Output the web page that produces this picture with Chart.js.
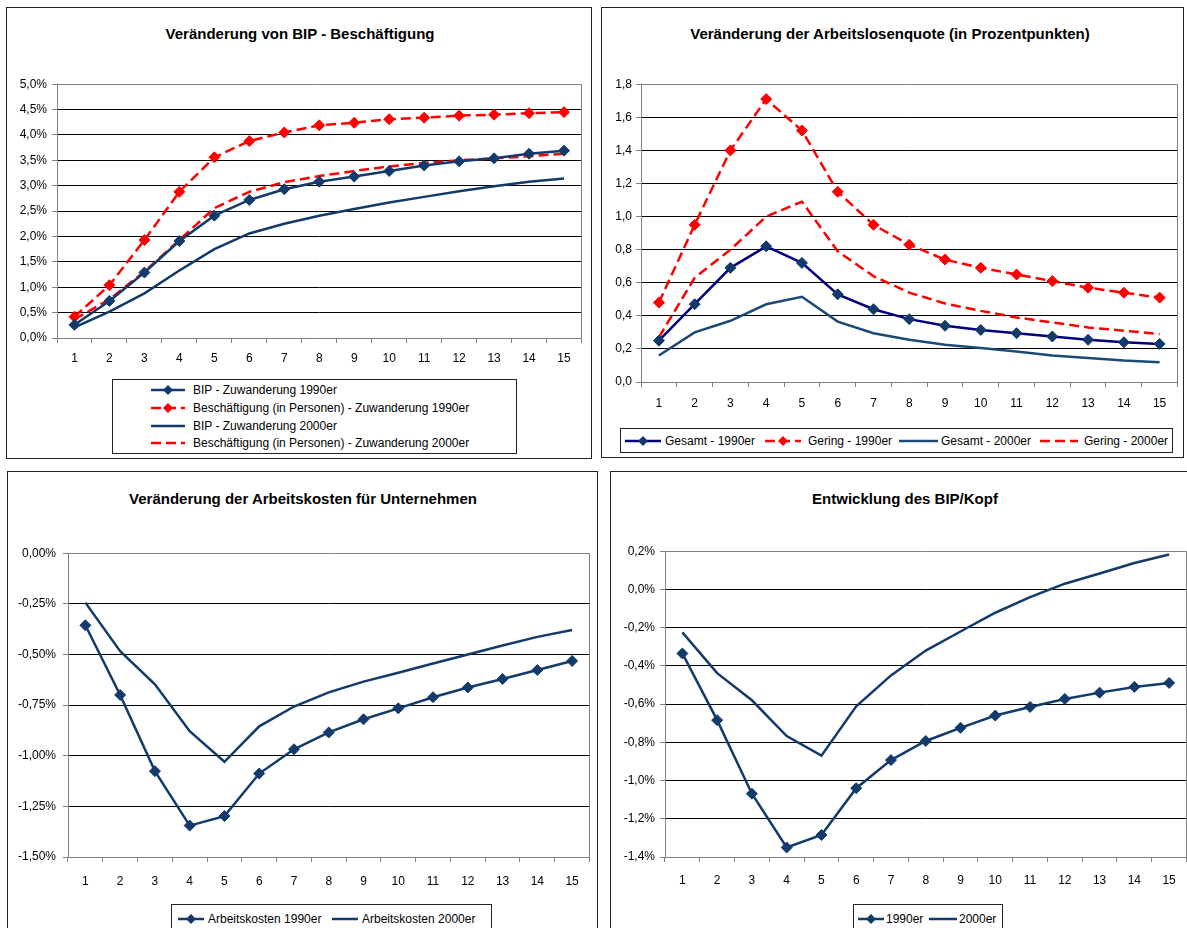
<!DOCTYPE html>
<html lang="de">
<head>
<meta charset="UTF-8">
<title>Zuwanderung - Veränderungen</title>
<script src="https://cdn.jsdelivr.net/npm/chart.js@4"></script>
<style>
  body { margin: 0; width: 1187px; height: 928px; overflow: hidden; background: #fff; position: relative;
         font-family: "Liberation Sans", Arial, sans-serif; color: #000; }
  .panel { position: absolute; border: 1.5px solid #222; box-sizing: border-box; }
  .titel { position: absolute; font-weight: bold; font-size: 15px; white-space: nowrap; transform: translate(-50%, -50%); }
  .box { position: absolute; }
  .legende { position: absolute; border: 1px solid #222; background: #fff; box-sizing: border-box; font-size: 12px; }
  .zeile { position: absolute; display: flex; align-items: center; white-space: nowrap; }
  .zeile svg { display: block; }
</style>
</head>
<body>

<div class="panel" style="left:6px; top:7px; width:586px; height:452px;"></div>
<div class="panel" style="left:601px; top:7px; width:583px; height:451px;"></div>
<div class="panel" style="left:7px; top:471px; width:591px; height:470px;"></div>
<div class="panel" style="left:610px; top:471px; width:590px; height:470px;"></div>

<div class="titel" style="left:300px; top:33px;">Veränderung von BIP - Beschäftigung</div>
<div class="titel" style="left:890px; top:33px;">Veränderung der Arbeitslosenquote (in Prozentpunkten)</div>
<div class="titel" style="left:303px; top:498px;">Veränderung der Arbeitskosten für Unternehmen</div>
<div class="titel" style="left:905px; top:498px;">Entwicklung des BIP/Kopf</div>

<div class="box" style="left:7px; top:72px; width:581px; height:296px;"><canvas id="chartBip"></canvas></div>
<div class="box" style="left:601px; top:73px; width:583px; height:339px;"><canvas id="chartQuote"></canvas></div>
<div class="box" style="left:6px; top:539px; width:590px; height:348px;"><canvas id="chartKosten"></canvas></div>
<div class="box" style="left:615px; top:539px; width:578px; height:348px;"><canvas id="chartKopf"></canvas></div>

<div class="legende" id="leg1" style="left:112px; top:379px; width:405px; height:75px;"></div>
<div class="legende" id="leg2" style="left:620px; top:428px; width:553px; height:25px;"></div>
<div class="legende" id="leg3" style="left:171px; top:904px; width:321px; height:30px;"></div>
<div class="legende" id="leg4" style="left:853px; top:904px; width:150px; height:30px;"></div>

<script>
  // Jahre nach der Zuwanderung
  const jahre = ['1', '2', '3', '4', '5', '6', '7', '8', '9', '10', '11', '12', '13', '14', '15'];

  // Veränderung von BIP - Beschäftigung (in %)
  const bip1990 = [0.26, 0.73, 1.29, 1.91, 2.41, 2.72, 2.93, 3.08, 3.18, 3.29, 3.40, 3.48, 3.54, 3.63, 3.69];
  const besch1990 = [0.42, 1.04, 1.93, 2.88, 3.56, 3.88, 4.05, 4.19, 4.24, 4.31, 4.34, 4.38, 4.40, 4.43, 4.45];
  const bip2000 = [0.21, 0.52, 0.88, 1.33, 1.75, 2.06, 2.25, 2.41, 2.54, 2.67, 2.78, 2.89, 2.99, 3.08, 3.14];
  const besch2000 = [0.37, 0.76, 1.31, 1.93, 2.56, 2.88, 3.07, 3.19, 3.29, 3.38, 3.45, 3.50, 3.54, 3.58, 3.63];

  // Veränderung der Arbeitslosenquote (Prozentpunkte)
  const gesamt1990 = [0.25, 0.47, 0.69, 0.82, 0.72, 0.53, 0.44, 0.38, 0.34, 0.315, 0.295, 0.275, 0.255, 0.24, 0.23];
  const gering1990 = [0.48, 0.95, 1.40, 1.71, 1.52, 1.15, 0.95, 0.83, 0.74, 0.69, 0.65, 0.61, 0.57, 0.54, 0.51];
  const gesamt2000 = [0.16, 0.30, 0.37, 0.47, 0.515, 0.365, 0.295, 0.255, 0.225, 0.205, 0.185, 0.16, 0.145, 0.13, 0.12];
  const gering2000 = [0.27, 0.63, 0.80, 1.00, 1.09, 0.79, 0.64, 0.54, 0.475, 0.43, 0.39, 0.36, 0.33, 0.31, 0.29];

  // Veränderung der Arbeitskosten (in %)
  const kosten1990 = [-0.356, -0.70, -1.076, -1.345, -1.298, -1.088, -0.968, -0.885, -0.82, -0.766, -0.711, -0.663, -0.621, -0.577, -0.532];
  const kosten2000 = [-0.244, -0.484, -0.647, -0.879, -1.03, -0.855, -0.757, -0.687, -0.634, -0.59, -0.545, -0.50, -0.456, -0.413, -0.379];

  // Entwicklung des BIP/Kopf (in %)
  const kopf1990 = [-0.335, -0.684, -1.069, -1.35, -1.285, -1.04, -0.893, -0.793, -0.724, -0.66, -0.615, -0.573, -0.54, -0.51, -0.489];
  const kopf2000 = [-0.225, -0.438, -0.58, -0.767, -0.87, -0.612, -0.45, -0.32, -0.22, -0.122, -0.04, 0.03, 0.083, 0.138, 0.183];

  // y-Achsen: [min, max, Schritt]
  const achseBip = [0, 5, 0.5];
  const achseQuote = [0, 1.8, 0.2];
  const achseKosten = [-1.5, 0, 0.25];
  const achseKopf = [-1.4, 0.2, 0.2];

  const NAVY = '#123a6b';
  const NAVY_LINIE = '#000080';
  const ROT = '#ff0000';
  const GRAU = '#808080';

  Chart.defaults.font.family = '"Liberation Sans", Arial, sans-serif';
  Chart.defaults.font.size = 12;
  Chart.defaults.color = '#000';

  // grauer Rahmen rechts am Diagramm, wie in Excel
  const rahmen = {
    id: 'rahmen',
    afterDraw(chart) {
      const a = chart.chartArea;
      const ctx = chart.ctx;
      ctx.save();
      ctx.strokeStyle = GRAU;
      ctx.lineWidth = 1;
      ctx.beginPath();
      ctx.moveTo(Math.round(a.right) - 0.5, a.top);
      ctx.lineTo(Math.round(a.right) - 0.5, a.bottom);
      ctx.stroke();
      ctx.restore();
    }
  };

  function reihe(daten, farbe, gestrichelt, raute, punktFarbe) {
    return {
      data: daten,
      borderColor: farbe,
      borderWidth: 2.5,
      borderDash: gestrichelt ? [10, 5] : [],
      pointStyle: 'rectRot',
      pointRadius: raute ? 5.5 : 0,
      pointBackgroundColor: punktFarbe || farbe,
      pointBorderColor: punktFarbe || farbe,
      pointBorderWidth: 1,
      tension: 0,
      fill: false
    };
  }

  function zeichnen(id, datasets, achse, format, yBreite, xHoehe, tickPad, xPad, rechts) {
    const [min, max, schritt] = achse;
    new Chart(document.getElementById(id), {
      type: 'line',
      data: { labels: jahre, datasets: datasets },
      options: {
        responsive: true,
        maintainAspectRatio: false,
        animation: false,
        events: [],
        layout: { padding: { top: 8, right: rechts, left: 0, bottom: 0 } },
        plugins: { legend: { display: false }, tooltip: { enabled: false } },
        scales: {
          x: {
            type: 'category',
            offset: true,
            grid: { offset: true, drawOnChartArea: false, tickLength: 5, tickColor: GRAU },
            border: { color: GRAU },
            ticks: { padding: xPad, maxRotation: 0, autoSkip: false },
            afterFit(scale) { scale.height = xHoehe; }
          },
          y: {
            min: min,
            max: max,
            grid: {
              color: ctx => (ctx.tick && (Math.abs(ctx.tick.value - max) < 1e-9 || Math.abs(ctx.tick.value - min) < 1e-9)) ? GRAU : '#000',
              tickColor: GRAU,
              tickLength: 5
            },
            border: { color: GRAU },
            ticks: { stepSize: schritt, padding: tickPad, callback: format },
            afterFit(scale) { scale.width = yBreite; }
          }
        }
      },
      plugins: [rahmen]
    });
  }

  const prozent = stellen => v => v.toFixed(stellen).replace('.', ',').replace(/^-(0,0+)$/, '$1') + '%';

  zeichnen('chartBip', [
    reihe(bip1990, NAVY, false, true),
    reihe(besch1990, ROT, true, true),
    reihe(bip2000, NAVY, false, false),
    reihe(besch2000, ROT, true, false)
  ], achseBip, prozent(1), 50, 30, 5, 8, 4);

  zeichnen('chartQuote', [
    reihe(gesamt1990, NAVY_LINIE, false, true, NAVY),
    reihe(gering1990, ROT, true, true),
    reihe(gesamt2000, '#1c4a78', false, false),
    reihe(gering2000, ROT, true, false)
  ], achseQuote, v => v.toFixed(1).replace('.', ','), 40, 30, 4, 9, 1);

  zeichnen('chartKosten', [
    reihe(kosten1990, NAVY, false, true),
    reihe(kosten2000, NAVY, false, false)
  ], achseKosten, prozent(2), 62, 30, 7, 12, 4);

  zeichnen('chartKopf', [
    reihe(kopf1990, NAVY, false, true),
    reihe(kopf2000, NAVY, false, false)
  ], achseKopf, prozent(1), 50, 30, 5, 11, 2);

  // Legenden im Excel-Stil
  function muster(farbe, gestrichelt, raute, breite, punktFarbe) {
    const m = breite / 2;
    const strich = gestrichelt ? ' stroke-dasharray="10 5"' : '';
    const punkt = raute ? `<path d="M${m} 1 L${m + 5} 6 L${m} 11 L${m - 5} 6Z" fill="${punktFarbe || farbe}"/>` : '';
    return `<svg width="${breite}" height="12"><line x1="0" y1="6" x2="${breite}" y2="6" stroke="${farbe}" stroke-width="2.5"${strich}/>${punkt}</svg>`;
  }

  function eintrag(ziel, links, mitte, probe, text, abstand) {
    const d = document.createElement('div');
    d.className = 'zeile';
    d.style.left = links + 'px';
    d.style.top = (mitte - 8) + 'px';
    d.style.height = '16px';
    d.innerHTML = probe + `<span style="margin-left:${abstand}px">${text}</span>`;
    document.getElementById(ziel).appendChild(d);
  }

  eintrag('leg1', 38, 10, muster(NAVY, false, true, 34), 'BIP - Zuwanderung 1990er', 8);
  eintrag('leg1', 38, 28, muster(ROT, true, true, 34), 'Beschäftigung (in Personen) - Zuwanderung 1990er', 8);
  eintrag('leg1', 38, 46, muster(NAVY, false, false, 34), 'BIP - Zuwanderung 2000er', 8);
  eintrag('leg1', 38, 63, muster(ROT, true, false, 34), 'Beschäftigung (in Personen) - Zuwanderung 2000er', 8);

  eintrag('leg2', 4, 12, muster(NAVY_LINIE, false, true, 36, NAVY), 'Gesamt - 1990er', 4);
  eintrag('leg2', 144, 12, muster(ROT, true, true, 36), 'Gering - 1990er', 7);
  eintrag('leg2', 278, 12, muster('#1c4a78', false, false, 39), 'Gesamt - 2000er', 3);
  eintrag('leg2', 419, 12, muster(ROT, true, false, 38), 'Gering - 2000er', 6);

  eintrag('leg3', 6, 14, muster(NAVY, false, true, 26), 'Arbeitskosten 1990er', 4);
  eintrag('leg3', 160, 14, muster(NAVY, false, false, 26), 'Arbeitskosten 2000er', 4);

  eintrag('leg4', 4, 14, muster(NAVY, false, true, 26), '1990er', 2);
  eintrag('leg4', 75, 14, muster(NAVY, false, false, 28), '2000er', 2);
</script>
</body>
</html>
